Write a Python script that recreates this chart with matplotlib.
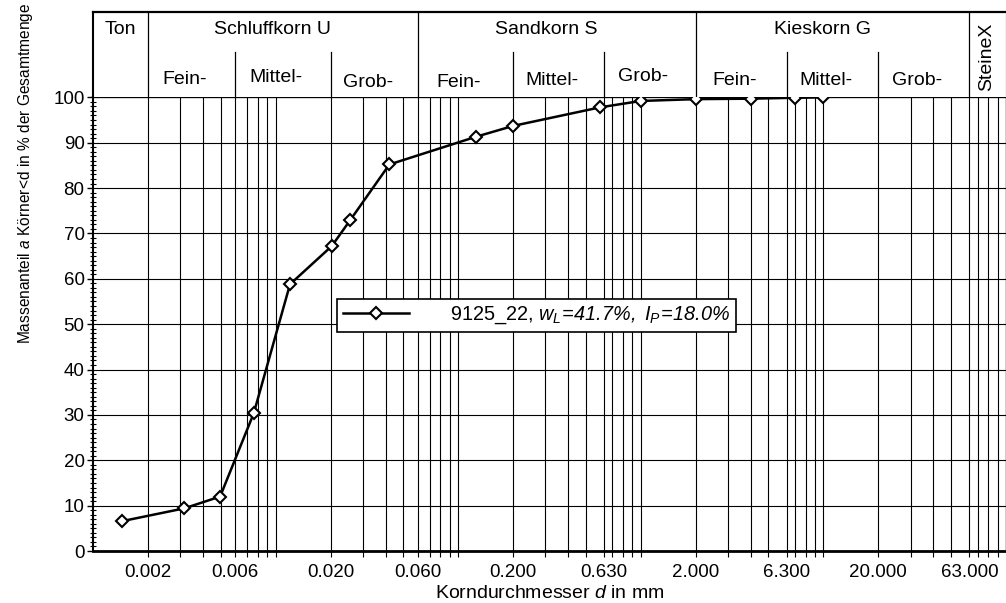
import matplotlib
matplotlib.use("Agg")
import matplotlib.pyplot as plt
from matplotlib.ticker import NullFormatter

plt.rcParams["font.family"] = "Liberation Sans"
plt.rcParams["mathtext.fontset"] = "custom"
plt.rcParams["mathtext.rm"] = "Liberation Sans:italic"
plt.rcParams["mathtext.it"] = "Liberation Sans:italic"

# sieve / sedimentation results
d_mm = [0.00145, 0.00316, 0.00497, 0.0076, 0.012, 0.0203, 0.0257, 0.042,
        0.125, 0.2, 0.6, 1.0, 2.0, 4.0, 7.0, 10.0]
passing = [6.6, 9.4, 12.0, 30.4, 58.8, 67.2, 73.0, 85.2,
           91.3, 93.7, 97.8, 99.2, 99.6, 99.7, 99.9, 100.0]
sample = "9125_22"
w_L = 41.7
I_P = 18.0

# axis ticks
tick_vals = [0.002, 0.006, 0.02, 0.06, 0.2, 0.63, 2, 6.3, 20, 63]
tick_labels = ["0.002", "0.006", "0.020", "0.060", "0.200", "0.630",
               "2.000", "6.300", "20.000", "63.000"]
minor_vals = [0.003, 0.004, 0.005, 0.007, 0.008, 0.009, 0.01,
              0.03, 0.04, 0.05, 0.07, 0.08, 0.09, 0.1,
              0.3, 0.4, 0.5, 0.7, 0.8, 0.9, 1.0,
              3, 4, 5, 7, 8, 9, 10,
              30, 40, 50, 70, 80, 90]

# soil classes for the header
main_names = ["Ton", "Schluffkorn U", "Sandkorn S", "Kieskorn G"]
main_bounds = [0.001, 0.002, 0.06, 2, 63]
sub_names = ["Fein-", "Mittel-", "Grob-"]
sub_bounds = [[0.002, 0.006, 0.02, 0.06],
              [0.06, 0.2, 0.63, 2],
              [2, 6.3, 20, 63]]
sub_ypos = [[0.21, 0.23, 0.17], [0.17, 0.20, 0.24], [0.20, 0.20, 0.20]]

fig = plt.figure(figsize=(10.06, 6.03), dpi=100)
ax = fig.add_axes([0.0924, 0.0862, 0.9076, 0.7524])
hd = fig.add_axes([0.0924, 0.8386, 0.9076, 0.142], sharex=ax)

ax.set_xscale("log")
ax.set_xlim(0.001, 100)
ax.set_ylim(0, 100)

ax.set_xticks(tick_vals, tick_labels)
ax.set_xticks(minor_vals, minor=True)
ax.xaxis.set_minor_formatter(NullFormatter())
ax.set_yticks(range(0, 101, 10))
ax.set_yticks(range(0, 101), minor=True)
ax.tick_params(axis="x", which="both", direction="out", length=4, width=0.8,
               labelsize=13.5, pad=5)
ax.tick_params(axis="y", which="major", direction="out", length=4, width=1,
               labelsize=13.5, pad=2)
ax.tick_params(axis="y", which="minor", direction="inout", length=4, width=0.8)
ax.grid(True, which="both", axis="x", color="black", lw=0.8)
ax.grid(True, which="major", axis="y", color="black", lw=0.8)

for side, lw in [("top", 1.6), ("bottom", 2.0), ("left", 1.5), ("right", 1.0)]:
    ax.spines[side].set_linewidth(lw)

# grain size curve
label = sample + r", $w_L\!=\!%.1f\%%,\ I_P\!=\!%.1f\%%$" % (w_L, I_P)
ax.plot(d_mm, passing, color="black", lw=1.8, marker="D", markersize=6,
        markerfacecolor="white", markeredgecolor="black", markeredgewidth=1.5,
        label=label, zorder=5)

leg = ax.legend(loc="center", bbox_to_anchor=(0.486, 0.519), fontsize=14.3,
                frameon=True, fancybox=False, edgecolor="black", framealpha=1,
                handlelength=3.3, handletextpad=2.1, borderpad=0.3,
                borderaxespad=0)
leg.get_frame().set_linewidth(1.2)

ax.set_xlabel(r"Korndurchmesser $d$ in mm", fontsize=14)
ax.xaxis.set_label_coords(0.5, -0.074)

fig.text(25.5 / 1006, 1 - 173.5 / 603,
         r"Massenanteil $a$ Körner<d in % der Gesamtmenge",
         rotation=90, ha="center", va="center", fontsize=11.2)

# header
hd.set_ylim(0, 1)
hd.tick_params(which="both", bottom=False, labelbottom=False,
               left=False, labelleft=False)
hd.spines["bottom"].set_visible(False)
hd.spines["top"].set_linewidth(1.6)
hd.spines["left"].set_linewidth(1.5)

for b in main_bounds[1:]:
    hd.axvline(b, color="black", lw=0.9)
shift = 10 ** (-10 / 182.7)
for i, name in enumerate(main_names):
    lo, hi = main_bounds[i], main_bounds[i + 1]
    xc = (lo * hi) ** 0.5
    if i > 0:
        xc *= shift
    hd.text(xc, 0.79, name, ha="center", va="center", fontsize=14)

sub_shift = 10 ** (-6.5 / 182.7)
for g, bounds in enumerate(sub_bounds):
    for b in bounds[1:-1]:
        hd.axvline(b, 0, 0.53, color="black", lw=0.9)
    for j, name in enumerate(sub_names):
        xc = (bounds[j] * bounds[j + 1]) ** 0.5 * sub_shift
        hd.text(xc, sub_ypos[g][j], name, ha="center", va="center", fontsize=14)

hd.text(78, 0.47, "SteineX", rotation=90, ha="center", va="center", fontsize=14)

fig.savefig("out.png", dpi=100)
